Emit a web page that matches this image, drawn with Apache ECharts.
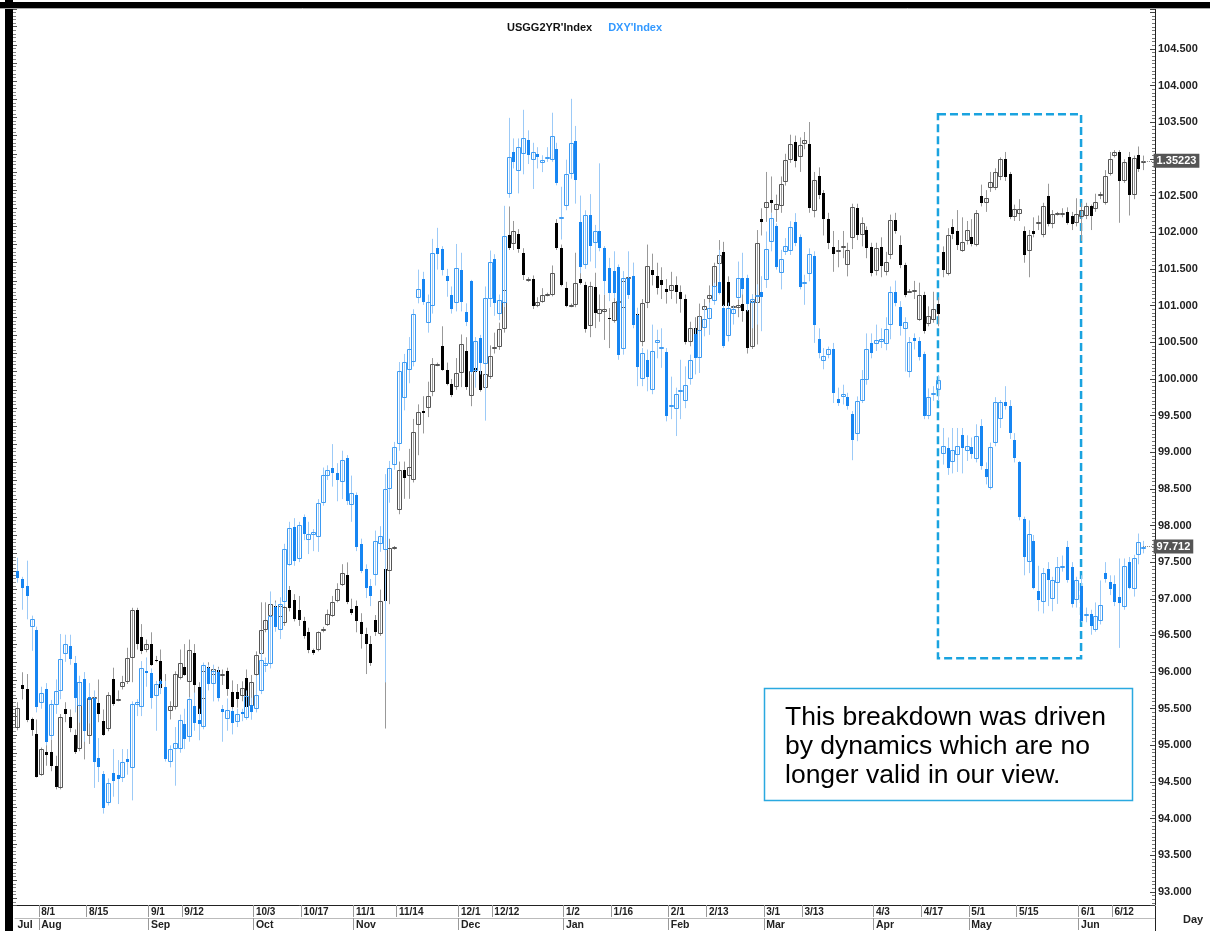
<!DOCTYPE html>
<html>
<head>
<meta charset="utf-8">
<title>USGG2YR vs DXY</title>
<script src="https://cdn.jsdelivr.net/npm/echarts@6/dist/echarts.min.js"></script>
<style>
  html, body { margin: 0; padding: 0; background: #fff; }
  #chart { width: 1210px; height: 931px; }
</style>
</head>
<body>
<div id="chart"></div>
<script>
const FONT = '"Liberation Sans", Arial, sans-serif';

// weekday categories from 2016-07-25; the last two stay empty like on the terminal chart
const dates = [];
for (let d = new Date(Date.UTC(2016, 6, 25)); dates.length < 239; d.setUTCDate(d.getUTCDate() + 1)) {
  const wd = d.getUTCDay();
  if (wd > 0 && wd < 6) dates.push(d.toISOString().slice(0, 10));
}

const dayTicks = ['8/1', '8/15', '9/1', '9/12', '10/3', '10/17', '11/1', '11/14', '12/1', '12/12',
  '1/2', '1/16', '2/1', '2/13', '3/1', '3/13', '4/3', '4/17', '5/1', '5/15', '6/1', '6/12'];
const monthTicks = ['Jul', 'Aug', 'Sep', 'Oct', 'Nov', 'Dec', 'Jan', 'Feb', 'Mar', 'Apr', 'May', 'Jun'];
const monthNames = ['Jan', 'Feb', 'Mar', 'Apr', 'May', 'Jun', 'Jul', 'Aug', 'Sep', 'Oct', 'Nov', 'Dec'];

// DXY Index daily bars: [open, close, low, high]
const dxyBars = [
  [97.38,97.29,97.22,97.56],[97.27,97.15,96.85,97.30],[97.17,97.04,96.72,97.52],[96.62,96.73,96.29,96.77],[96.58,95.52,95.45,96.62],
  [95.58,95.71,95.50,95.80],[95.77,95.05,95.00,95.85],[95.13,95.56,95.08,95.62],[95.55,95.74,95.43,95.90],[95.74,96.18,95.63,96.52],
  [96.25,96.39,96.14,96.51],[96.35,96.18,96.10,96.51],[96.12,95.64,95.45,96.22],[95.54,95.86,95.31,95.95],[95.90,95.20,95.05,96.00],
  [95.66,95.62,95.30,95.85],[95.65,94.78,94.42,95.75],[94.83,94.71,94.50,95.10],[94.61,94.15,94.07,94.65],[94.22,94.49,94.18,94.55],
  [94.63,94.52,94.30,94.95],[94.59,94.54,94.20,94.80],[94.56,94.78,94.50,94.95],[94.81,94.77,94.60,94.95],[94.69,95.57,94.25,95.60],
  [95.55,95.59,95.40,95.63],[95.53,96.05,95.40,96.15],[96.02,95.99,95.80,96.20],[95.99,95.64,95.50,96.05],[95.67,95.84,95.20,95.88],
  [95.88,95.84,95.70,95.90],[95.79,94.81,94.78,95.88],[94.77,94.95,94.70,95.00],[94.95,95.03,94.45,95.25],[94.95,95.34,94.90,95.42],
  [95.29,95.09,94.95,95.50],[95.11,95.63,95.05,95.66],[95.54,95.31,95.20,95.72],[95.34,95.29,95.07,95.50],[95.25,96.10,95.22,96.13],
  [96.06,95.84,95.75,96.10],[95.84,96.02,95.60,96.10],[96.00,95.65,95.60,96.05],[95.49,95.45,95.05,95.55],[95.36,95.48,95.20,95.64],
  [95.47,95.30,95.15,95.50],[95.32,95.43,95.25,95.50],[95.46,95.43,95.33,95.50],[95.38,95.68,95.35,95.75],[95.55,95.45,95.35,95.65],
  [95.50,95.69,95.45,95.95],[95.74,96.17,95.70,96.30],[96.08,96.12,96.00,96.20],[96.11,96.77,96.05,97.10],[96.89,96.62,96.55,96.95],
  [96.58,96.93,96.45,97.02],[96.95,97.68,96.90,97.75],[97.46,97.97,97.45,98.05],[97.98,97.52,97.45,98.10],[97.54,98.01,97.50,98.05],
  [98.11,97.89,97.80,98.15],[97.80,97.88,97.61,98.05],[97.87,97.91,97.65,97.95],[97.84,98.30,97.64,98.36],[98.30,98.69,98.27,98.79],
  [98.68,98.76,98.62,98.82],[98.79,98.72,98.53,99.11],[98.72,98.62,98.33,98.85],[98.59,98.89,98.36,99.02],[98.92,98.34,98.28,98.96],
  [98.28,98.44,98.05,98.68],[98.41,97.70,97.65,98.45],[97.75,97.38,97.35,97.82],[97.41,97.15,97.01,97.47],[97.18,97.04,96.90,97.27],
  [97.33,97.79,97.18,97.93],[97.75,97.86,97.64,97.99],[97.67,98.50,95.86,98.70],[98.50,98.79,98.31,98.88],[98.82,99.07,98.76,99.14],
  [99.11,100.11,99.02,100.23],[99.74,100.23,99.57,100.34],[100.12,100.41,99.94,100.57],[100.23,100.89,100.17,100.95],[101.10,101.22,101.03,101.49],
  [101.36,101.05,101.01,101.46],[100.76,101.05,100.63,101.15],[100.99,101.71,100.89,101.91],[101.78,101.70,101.49,102.06],[101.77,101.49,101.41,101.81],
  [101.40,101.34,101.12,101.50],[101.14,100.95,100.89,101.26],[101.04,101.51,100.92,101.84],[101.49,101.05,100.92,101.72],[100.91,100.78,100.72,101.03],
  [101.34,100.09,100.06,101.35],[100.11,100.51,99.88,100.57],[100.56,100.22,100.06,100.60],[100.20,101.10,99.43,101.26],[101.09,101.60,100.98,101.75],
  [101.63,101.03,100.86,101.70],[100.89,101.07,100.80,101.15],[101.03,101.95,100.98,102.36],[102.52,103.03,102.47,103.56],[103.09,102.96,102.87,103.28],
  [102.83,103.16,102.53,103.28],[103.07,103.29,102.79,103.67],[103.26,103.05,102.93,103.39],[102.99,103.10,102.59,103.22],[103.07,103.02,102.87,103.16],
  [102.94,102.98,102.82,103.05],[103.01,103.03,102.96,103.16],[102.99,103.31,102.96,103.63],[103.13,102.67,102.64,103.22],[102.19,102.21,101.90,102.62],
  [102.36,102.80,102.30,102.99],[102.79,103.22,102.73,103.82],[103.25,102.71,102.39,103.45],[102.14,101.52,101.44,102.50],[101.55,102.23,101.50,102.30],
  [102.24,101.81,101.60,102.52],[101.85,102.01,101.51,102.10],[102.02,101.78,101.74,102.94],[101.78,101.34,101.15,101.81],[101.51,101.17,101.06,101.65],
  [101.47,101.17,101.10,101.74],[101.53,100.32,100.26,101.56],[100.41,101.38,100.33,101.47],[101.38,101.15,101.09,101.74],[101.40,100.74,100.69,101.58],
  [100.87,100.16,99.90,100.97],[100.00,100.35,99.90,100.42],[100.26,100.02,99.83,100.40],[99.85,100.38,99.79,100.74],[100.49,100.53,100.28,100.67],
  [100.42,100.43,100.15,100.69],[100.36,99.50,99.42,100.42],[99.64,99.65,99.45,100.03],[99.59,99.79,99.22,99.88],[99.83,99.85,99.45,100.26],
  [99.70,99.91,99.60,100.17],[100.00,100.26,99.92,100.33],[100.61,100.28,100.06,100.69],[100.29,100.66,100.08,100.85],[100.70,100.82,100.58,100.97],
  [100.82,100.97,100.60,101.04],[101.06,101.26,101.01,101.31],[101.32,101.17,101.15,101.76],[100.96,100.45,100.42,101.01],[100.58,100.96,100.51,101.04],
  [100.88,100.95,100.74,100.99],[101.10,101.38,101.08,101.60],[101.38,101.22,101.15,101.72],[101.38,101.02,100.92,101.42],[101.04,101.09,100.69,101.15],
  [101.11,101.15,100.74,101.29],[101.19,101.11,100.65,101.40],[101.35,101.77,101.24,102.01],[101.87,102.19,101.74,102.26],[102.08,101.53,101.49,102.12],
  [101.44,101.64,101.22,101.76],[101.73,101.81,101.69,101.92],[101.74,102.07,101.69,102.15],[102.14,101.85,101.81,102.26],[101.93,101.25,101.22,101.97],
  [101.30,101.32,101.01,101.42],[101.43,101.70,101.33,101.78],[101.68,100.74,100.49,101.74],[100.54,100.35,100.28,100.69],[100.24,100.31,100.13,100.42],
  [100.32,100.41,100.28,100.44],[100.41,99.81,99.67,100.49],[99.73,99.67,99.63,99.88],[99.75,99.79,99.65,99.92],[99.75,99.63,99.58,99.81],
  [99.52,99.17,98.89,99.56],[99.25,99.70,99.15,99.76],[99.70,100.00,99.67,100.12],[99.99,100.41,99.92,100.62],[100.49,100.35,100.28,100.62],
  [100.47,100.53,100.38,100.74],[100.50,100.55,100.42,100.69],[100.47,100.68,100.39,100.84],[100.74,101.19,100.54,101.26],[101.19,101.04,100.99,101.34],
  [100.98,100.72,100.59,101.06],[100.68,100.78,100.10,100.84],[100.10,100.50,100.02,100.57],[100.56,100.52,100.40,100.62],[100.52,100.30,100.25,100.57],
  [100.34,99.50,99.45,100.37],[99.50,99.75,99.45,99.87],[99.78,99.81,99.70,99.90],[99.85,99.99,99.70,100.05],[98.98,99.08,98.83,99.33],
  [99.06,98.78,98.69,99.20],[98.86,99.03,98.71,99.33],[98.96,99.08,98.73,99.33],[99.23,99.06,98.71,99.33],[99.01,99.08,98.88,99.23],
  [99.07,98.98,98.91,99.20],[98.91,99.22,98.86,99.38],[99.36,98.81,98.76,99.45],[98.77,98.66,98.56,98.86],[98.51,99.07,98.49,99.13],
  [99.13,99.68,99.08,99.75],[99.45,99.68,99.33,99.71],[99.68,99.63,99.58,99.90],[99.63,99.26,99.18,99.71],[99.16,98.92,98.86,99.26],
  [98.87,98.11,98.07,98.88],[98.09,97.57,97.32,98.12],[97.50,97.88,97.35,98.07],[97.79,97.15,97.13,97.87],[97.11,96.99,96.83,97.45],
  [96.95,97.35,96.80,97.42],[97.41,97.25,96.90,97.50],[97.00,97.26,96.83,97.30],[97.22,97.44,96.93,97.57],[97.44,97.45,97.37,97.59],
  [97.71,97.25,97.22,97.79],[97.43,96.93,96.88,97.50],[96.98,97.25,96.88,97.30],[97.17,96.70,96.68,97.32],[96.77,96.79,96.68,96.88],
  [96.79,96.63,96.51,96.85],[96.58,96.76,96.55,96.95],[96.70,96.92,96.65,97.25],[97.35,97.27,97.22,97.50],[97.23,97.13,97.05,97.32],
  [97.20,96.95,96.90,97.32],[97.02,96.94,96.33,97.55],[96.89,97.45,96.85,97.55],[97.50,97.15,97.13,97.57],[97.13,97.56,97.03,97.60],
  [97.60,97.77,97.47,97.89],[97.71,97.712,97.62,97.79]
];

// USGG2YR Index daily bars (yield, %): [open, close, low, high]
const usgBars = [
  [0.728,0.750,0.725,0.756],[0.775,0.771,0.759,0.789],[0.771,0.736,0.734,0.787],[0.737,0.725,0.719,0.739],[0.721,0.674,0.673,0.737],
  [0.676,0.704,0.675,0.706],[0.701,0.698,0.686,0.715],[0.701,0.686,0.680,0.715],[0.686,0.663,0.660,0.697],[0.661,0.740,0.660,0.743],
  [0.748,0.743,0.734,0.756],[0.740,0.728,0.723,0.748],[0.720,0.701,0.699,0.726],[0.704,0.778,0.702,0.783],[0.766,0.724,0.693,0.772],
  [0.719,0.761,0.710,0.770],[0.760,0.762,0.758,0.765],[0.755,0.743,0.734,0.781],[0.735,0.720,0.719,0.748],[0.726,0.764,0.724,0.767],
  [0.782,0.754,0.752,0.794],[0.759,0.760,0.757,0.769],[0.773,0.778,0.770,0.785],[0.778,0.805,0.776,0.816],[0.805,0.857,0.778,0.860],
  [0.857,0.820,0.814,0.860],[0.828,0.812,0.809,0.842],[0.814,0.820,0.811,0.825],[0.820,0.797,0.796,0.833],[0.802,0.801,0.800,0.807],
  [0.801,0.772,0.770,0.814],[0.772,0.739,0.737,0.787],[0.746,0.752,0.737,0.757],[0.751,0.787,0.748,0.790],[0.783,0.799,0.781,0.814],
  [0.795,0.786,0.785,0.820],[0.778,0.814,0.761,0.825],[0.810,0.775,0.763,0.820],[0.773,0.743,0.734,0.778],[0.760,0.790,0.755,0.795],
  [0.795,0.790,0.785,0.800],[0.786,0.793,0.780,0.797],[0.791,0.782,0.775,0.795],[0.785,0.787,0.775,0.792],[0.790,0.770,0.763,0.794],
  [0.767,0.751,0.745,0.780],[0.767,0.759,0.750,0.776],[0.763,0.772,0.757,0.779],[0.783,0.751,0.748,0.792],[0.752,0.778,0.745,0.786],
  [0.786,0.808,0.782,0.812],[0.809,0.836,0.800,0.866],[0.836,0.846,0.833,0.866],[0.851,0.864,0.848,0.870],[0.862,0.851,0.845,0.868],
  [0.850,0.862,0.846,0.870],[0.843,0.861,0.840,0.866],[0.880,0.860,0.856,0.884],[0.869,0.848,0.845,0.875],[0.857,0.847,0.840,0.873],
  [0.845,0.829,0.826,0.850],[0.833,0.813,0.810,0.838],[0.813,0.810,0.808,0.815],[0.813,0.833,0.812,0.834],[0.835,0.837,0.833,0.839],
  [0.841,0.853,0.840,0.858],[0.851,0.866,0.850,0.873],[0.868,0.881,0.866,0.887],[0.885,0.898,0.884,0.908],[0.896,0.866,0.864,0.910],
  [0.859,0.854,0.852,0.870],[0.862,0.845,0.833,0.868],[0.844,0.831,0.815,0.854],[0.831,0.820,0.787,0.838],[0.820,0.799,0.796,0.829],
  [0.846,0.833,0.829,0.852],[0.831,0.867,0.829,0.880],[0.903,0.868,0.727,0.912],[0.901,0.926,0.864,0.936],[0.926,0.927,0.924,0.928],
  [0.968,1.012,0.963,1.021],[1.012,1.003,0.980,1.021],[1.005,1.015,0.980,1.035],[1.001,1.054,0.998,1.068],[1.061,1.076,1.028,1.084],
  [1.077,1.075,1.052,1.093],[1.080,1.093,1.070,1.109],[1.098,1.128,1.093,1.135],[1.128,1.129,1.126,1.130],[1.148,1.122,1.121,1.170],
  [1.122,1.106,1.105,1.130],[1.106,1.094,1.092,1.112],[1.103,1.119,1.100,1.135],[1.119,1.151,1.103,1.161],[1.143,1.103,1.100,1.158],
  [1.093,1.121,1.082,1.137],[1.124,1.120,1.117,1.130],[1.121,1.100,1.098,1.128],[1.102,1.117,1.098,1.121],[1.114,1.137,1.112,1.149],
  [1.146,1.147,1.140,1.163],[1.147,1.167,1.144,1.174],[1.167,1.210,1.163,1.220],[1.270,1.256,1.254,1.302],[1.261,1.275,1.254,1.286],
  [1.272,1.255,1.251,1.277],[1.251,1.226,1.221,1.256],[1.221,1.222,1.219,1.224],[1.222,1.192,1.189,1.226],[1.192,1.197,1.191,1.202],
  [1.197,1.205,1.196,1.212],[1.205,1.206,1.203,1.207],[1.205,1.229,1.203,1.237],[1.284,1.256,1.254,1.288],[1.256,1.215,1.214,1.260],
  [1.212,1.192,1.191,1.219],[1.193,1.194,1.191,1.195],[1.193,1.218,1.191,1.251],[1.222,1.218,1.216,1.237],[1.215,1.167,1.163,1.219],
  [1.170,1.214,1.158,1.219],[1.213,1.185,1.168,1.229],[1.183,1.189,1.175,1.205],[1.186,1.189,1.155,1.205],[1.179,1.178,1.146,1.190],
  [1.176,1.197,1.174,1.212],[1.197,1.198,1.196,1.199],[1.190,1.220,1.180,1.225],[1.222,1.224,1.210,1.235],[1.225,1.210,1.205,1.240],
  [1.183,1.153,1.150,1.190],[1.153,1.196,1.148,1.200],[1.196,1.236,1.190,1.260],[1.232,1.227,1.215,1.250],[1.225,1.212,1.205,1.240],
  [1.221,1.215,1.200,1.235],[1.211,1.208,1.195,1.222],[1.209,1.215,1.200,1.230],[1.215,1.208,1.195,1.225],[1.208,1.200,1.185,1.215],
  [1.200,1.153,1.150,1.205],[1.153,1.168,1.148,1.175],[1.168,1.152,1.150,1.180],[1.165,1.181,1.160,1.195],[1.188,1.192,1.180,1.200],
  [1.200,1.205,1.190,1.215],[1.213,1.236,1.205,1.240],[1.239,1.248,1.230,1.265],[1.252,1.192,1.188,1.263],[1.219,1.192,1.185,1.225],
  [1.191,1.192,1.190,1.193],[1.190,1.194,1.180,1.210],[1.195,1.187,1.175,1.215],[1.188,1.146,1.140,1.195],[1.147,1.198,1.145,1.205],
  [1.196,1.262,1.150,1.276],[1.288,1.285,1.270,1.300],[1.300,1.307,1.285,1.340],[1.309,1.306,1.295,1.335],[1.298,1.305,1.285,1.315],
  [1.302,1.327,1.295,1.335],[1.329,1.353,1.325,1.360],[1.353,1.371,1.350,1.381],[1.373,1.352,1.345,1.380],[1.357,1.370,1.340,1.378],
  [1.371,1.375,1.365,1.384],[1.371,1.300,1.295,1.395],[1.297,1.331,1.290,1.340],[1.336,1.315,1.310,1.345],[1.317,1.288,1.270,1.320],
  [1.288,1.262,1.255,1.295],[1.257,1.250,1.230,1.275],[1.253,1.254,1.235,1.265],[1.256,1.258,1.245,1.275],[1.238,1.254,1.225,1.262],
  [1.267,1.301,1.255,1.305],[1.300,1.271,1.265,1.305],[1.271,1.284,1.258,1.290],[1.276,1.256,1.245,1.280],[1.257,1.229,1.225,1.262],
  [1.231,1.256,1.226,1.262],[1.257,1.236,1.224,1.268],[1.230,1.241,1.226,1.252],[1.248,1.287,1.244,1.293],[1.287,1.275,1.272,1.295],
  [1.260,1.237,1.234,1.270],[1.237,1.205,1.202,1.240],[1.208,1.209,1.207,1.211],[1.208,1.210,1.200,1.220],[1.177,1.205,1.176,1.218],
  [1.205,1.165,1.162,1.208],[1.173,1.181,1.170,1.192],[1.177,1.189,1.174,1.208],[1.195,1.183,1.170,1.202],[1.252,1.232,1.224,1.258],
  [1.228,1.271,1.226,1.278],[1.279,1.272,1.266,1.288],[1.275,1.259,1.254,1.298],[1.253,1.263,1.252,1.290],[1.264,1.276,1.260,1.286],
  [1.268,1.261,1.258,1.288],[1.260,1.295,1.258,1.298],[1.314,1.306,1.302,1.326],[1.306,1.311,1.296,1.320],[1.322,1.329,1.318,1.340],
  [1.322,1.340,1.320,1.344],[1.334,1.354,1.331,1.356],[1.354,1.334,1.330,1.362],[1.338,1.290,1.288,1.340],[1.290,1.299,1.286,1.304],
  [1.294,1.299,1.286,1.310],[1.275,1.248,1.240,1.280],[1.253,1.270,1.224,1.276],[1.275,1.272,1.268,1.290],[1.284,1.285,1.276,1.292],
  [1.271,1.303,1.268,1.306],[1.313,1.283,1.280,1.327],[1.283,1.294,1.278,1.298],[1.294,1.295,1.292,1.296],[1.294,1.295,1.290,1.300],
  [1.296,1.284,1.282,1.301],[1.291,1.283,1.276,1.296],[1.284,1.294,1.280,1.311],[1.290,1.298,1.264,1.306],[1.292,1.302,1.288,1.306],
  [1.302,1.291,1.276,1.304],[1.299,1.307,1.296,1.316],[1.315,1.316,1.310,1.318],[1.306,1.335,1.304,1.342],[1.338,1.354,1.336,1.362],
  [1.358,1.362,1.356,1.364],[1.362,1.330,1.284,1.364],[1.330,1.351,1.328,1.354],[1.356,1.315,1.292,1.362],[1.315,1.355,1.310,1.358],
  [1.359,1.343,1.340,1.368],[1.350,1.35223,1.342,1.358]
];

const dxyLast = '97.712';
const usgLast = '1.35223';
const note = 'This breakdown was driven\nby dynamics which are no\nlonger valid in our view.';

function md(s) { return (+s.slice(5, 7)) + '/' + (+s.slice(8, 10)); }
function isDayTick(i) { return dayTicks.indexOf(md(dates[i])) >= 0; }
function monthOf(i) { return monthNames[+dates[i].slice(5, 7) - 1]; }
function isMonthTick(i) {
  const first = i === 0 || dates[i].slice(5, 7) !== dates[i - 1].slice(5, 7);
  return first && dates[i] < '2017-06-21' && monthTicks.indexOf(monthOf(i)) >= 0;
}

// draws one bar: wick over the full range, hollow body when close >= open
function makeCandle(col) {
  return function (params, api) {
    const i = api.value(0);
    const o = api.value(1), c = api.value(2);
    const pO = api.coord([i, o]);
    const pC = api.coord([i, c]);
    const yL = api.coord([i, api.value(3)])[1];
    const yH = api.coord([i, api.value(4)])[1];
    const cx = Math.round(pO[0]);
    const top = Math.round(Math.min(pO[1], pC[1]));
    const bot = Math.max(Math.round(Math.max(pO[1], pC[1])), top + 1);
    const kids = [{
      type: 'line',
      shape: { x1: cx + 0.5, y1: yH, x2: cx + 0.5, y2: yL },
      style: { stroke: col.wick, lineWidth: 1 }
    }];
    if (c >= o) {
      kids.push({
        type: 'rect',
        shape: { x: cx - 1.5, y: top + 0.5, width: 4, height: Math.max(bot - top - 1, 1) },
        style: { fill: 'none', stroke: col.up, lineWidth: 1 }
      });
    } else {
      kids.push({
        type: 'rect',
        shape: { x: cx - 1, y: top, width: 3, height: bot - top },
        style: { fill: col.down }
      });
    }
    return { type: 'group', children: kids };
  };
}

function lastMark(value, label) {
  return {
    silent: true,
    symbol: ['none', 'none'],
    animation: false,
    lineStyle: { type: 'dotted', color: '#888', width: 1 },
    label: {
      show: true, position: 'end', distance: 1, formatter: label,
      color: '#fff', backgroundColor: '#555', padding: [2, 3, 1, 3],
      fontFamily: FONT, fontSize: 11, fontWeight: 'bold'
    },
    data: [[{ coord: [dxyBars.length - 1, value] }, { coord: [dates.length - 1, value] }]]
  };
}

const chart = echarts.init(document.getElementById('chart'));

chart.setOption({
  animation: false,
  backgroundColor: '#fff',
  textStyle: { fontFamily: FONT },
  grid: { left: 15, right: 55, top: 9, bottom: 25 },
  legend: {
    top: 17, left: 497, padding: 5,
    itemWidth: 0, itemHeight: 0, itemGap: 11,
    selectedMode: false,
    textStyle: { fontFamily: FONT, fontSize: 11, fontWeight: 'bold' },
    data: [
      { name: "USGG2YR'Index", textStyle: { color: '#111' } },
      { name: "DXY'Index", textStyle: { color: '#3399ff' } }
    ]
  },
  xAxis: [{
    type: 'category',
    data: dates,
    boundaryGap: true,
    axisLine: { lineStyle: { color: '#222', width: 1 } },
    axisTick: { show: true, interval: isDayTick, length: 12, lineStyle: { color: '#999' } },
    axisLabel: {
      interval: isDayTick, formatter: md, align: 'left', margin: 2,
      fontFamily: FONT, fontSize: 10, fontWeight: 'bold', color: '#222'
    },
    splitLine: { show: false }
  }, {
    type: 'category',
    data: dates,
    position: 'bottom',
    offset: 13,
    boundaryGap: true,
    axisLine: { lineStyle: { color: '#bbb', width: 1 } },
    axisTick: {
      show: true, length: 12, lineStyle: { color: '#999' },
      interval: function (i) { return i > 0 && isMonthTick(i); }
    },
    axisLabel: {
      interval: isMonthTick, formatter: function (v, i) { return monthOf(i); },
      align: 'left', margin: 2,
      fontFamily: FONT, fontSize: 10.5, fontWeight: 'bold', color: '#222'
    },
    splitLine: { show: false }
  }],
  yAxis: [{
    type: 'value',
    position: 'right',
    min: 92.823, max: 105.045,
    splitNumber: 24,
    axisLine: { show: true, lineStyle: { color: '#222', width: 1 } },
    axisTick: { show: true, inside: true, length: 5, lineStyle: { color: '#444' } },
    minorTick: { show: true, splitNumber: 10, length: 3, lineStyle: { color: '#777' } },
    splitLine: { show: false },
    axisLabel: {
      margin: 3, fontFamily: FONT, fontSize: 11, fontWeight: 'bold', color: '#222',
      formatter: function (v) {
        const ok = Math.abs(v * 2 - Math.round(v * 2)) < 1e-6 && v >= 92.9 && v <= 104.6;
        return ok ? v.toFixed(3) : '';
      }
    }
  }, {
    type: 'value',
    position: 'left',
    offset: 2,
    min: 0.53265, max: 1.51945,
    splitNumber: 50,
    axisLine: { show: false },
    axisTick: { show: true, inside: true, length: 4, lineStyle: { color: '#555' } },
    minorTick: { show: true, splitNumber: 5, length: 3, lineStyle: { color: '#888' } },
    splitLine: { show: false },
    axisLabel: { show: false }
  }],
  series: [{
    name: "USGG2YR'Index",
    type: 'custom',
    yAxisIndex: 1,
    clip: true,
    renderItem: makeCandle({ up: '#555', down: '#000', wick: '#999' }),
    encode: { x: 0, y: [1, 2, 3, 4] },
    data: usgBars.map(function (b, i) { return [i].concat(b); }),
    markLine: lastMark(usgBars[usgBars.length - 1][1], usgLast)
  }, {
    name: "DXY'Index",
    type: 'custom',
    yAxisIndex: 0,
    clip: true,
    renderItem: makeCandle({ up: '#3d9bf3', down: '#1685f2', wick: '#9ccaf7' }),
    encode: { x: 0, y: [1, 2, 3, 4] },
    data: dxyBars.map(function (b, i) { return [i].concat(b); }),
    markLine: lastMark(dxyBars[dxyBars.length - 1][1], dxyLast),
    markArea: {
      silent: true,
      itemStyle: { color: 'rgba(0,0,0,0)', borderColor: '#1aa3df', borderWidth: 2.5, borderType: [8, 4] },
      data: [[{ coord: [dates[193], 103.61] }, { coord: [dates[223], 96.19] }]]
    }
  }],
  graphic: [
    { type: 'rect', z: 100, shape: { x: 5, y: 0, width: 8, height: 931 }, style: { fill: '#000' } },
    { type: 'rect', z: 100, shape: { x: 0, y: 2, width: 1210, height: 6 }, style: { fill: '#000' } },
    { type: 'line', z: 100, shape: { x1: 0, y1: 8.5, x2: 1210, y2: 8.5 }, style: { stroke: '#aaa', lineWidth: 1 } },
    { type: 'line', z: 100, shape: { x1: 1155.5, y1: 906, x2: 1155.5, y2: 931 }, style: { stroke: '#222', lineWidth: 1 } },
    {
      type: 'text', z: 100, x: 1183, y: 914,
      style: { text: 'Day', font: 'bold 11px ' + FONT, fill: '#222' }
    },
    {
      type: 'group', z: 100,
      children: [
        { type: 'rect', shape: { x: 764.5, y: 688.5, width: 368, height: 112 }, style: { fill: '#fff', stroke: '#2aa9e0', lineWidth: 1.5 } },
        { type: 'text', x: 785, y: 703, style: { text: note, font: '26.5px ' + FONT, fill: '#000', lineHeight: 29 } }
      ]
    }
  ]
});
</script>
</body>
</html>
